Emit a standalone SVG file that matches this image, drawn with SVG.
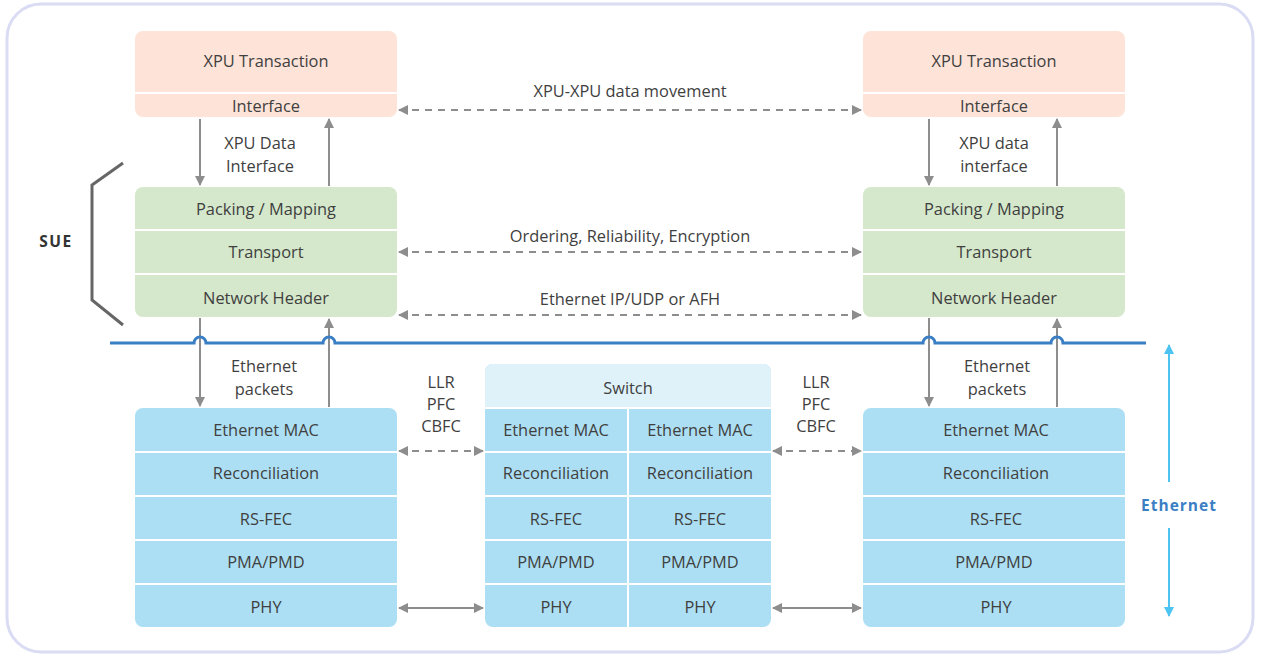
<svg xmlns="http://www.w3.org/2000/svg" width="1264" height="656" viewBox="0 0 1264 656">
<style>
text{font-family:"Open Sans","Noto Sans",sans-serif;font-size:16.4px;fill:#3f3f3f;text-anchor:middle}
.peach{fill:#fde3d8}
.green{fill:#d5e8cb}
.blue{fill:#addff4}
.sw{fill:#dff2f9}
.div{stroke:#fff;stroke-width:2}
.arr{stroke:#8d8d8d;stroke-width:2;fill:none}
.dash{stroke:#8d8d8d;stroke-width:2;fill:none;stroke-dasharray:7 6}
</style>
<defs>
<marker id="ah" viewBox="0 0 10 10" refX="9" refY="5" markerWidth="13" markerHeight="10" markerUnits="userSpaceOnUse" orient="auto-start-reverse">
<path d="M0,0 L10,5 L0,10 z" fill="#8d8d8d"/>
</marker>
<marker id="ahc" viewBox="0 0 10 10" refX="9" refY="5" markerWidth="14" markerHeight="10" markerUnits="userSpaceOnUse" orient="auto-start-reverse">
<path d="M0,0 L10,5 L0,10 z" fill="#4cc3f0"/>
</marker>
</defs>
<rect x="7" y="4" width="1246" height="648" rx="34" fill="#fff" stroke="#d9dcf3" stroke-width="3"/>

<g id="left-xpu">
<rect class="peach" x="135" y="31" width="262" height="86" rx="8"/>
<line class="div" x1="135" y1="93" x2="397" y2="93"/>
<text x="266" y="67">XPU Transaction</text>
<text x="266" y="112">Interface</text>
</g>
<g id="right-xpu">
<rect class="peach" x="863" y="31" width="262" height="86" rx="8"/>
<line class="div" x1="863" y1="93" x2="1125" y2="93"/>
<text x="994" y="67">XPU Transaction</text>
<text x="994" y="112">Interface</text>
</g>

<g id="left-sue">
<rect class="green" x="135" y="187" width="262" height="130" rx="8"/>
<line class="div" x1="135" y1="230" x2="397" y2="230"/>
<line class="div" x1="135" y1="274" x2="397" y2="274"/>
<text x="266" y="215">Packing / Mapping</text>
<text x="266" y="258">Transport</text>
<text x="266" y="304">Network Header</text>
</g>
<g id="right-sue">
<rect class="green" x="863" y="187" width="262" height="130" rx="8"/>
<line class="div" x1="863" y1="230" x2="1125" y2="230"/>
<line class="div" x1="863" y1="274" x2="1125" y2="274"/>
<text x="994" y="215">Packing / Mapping</text>
<text x="994" y="258">Transport</text>
<text x="994" y="304">Network Header</text>
</g>

<g id="left-eth">
<rect class="blue" x="135" y="408" width="262" height="219" rx="8"/>
<line class="div" x1="135" y1="452" x2="397" y2="452"/>
<line class="div" x1="135" y1="496" x2="397" y2="496"/>
<line class="div" x1="135" y1="540" x2="397" y2="540"/>
<line class="div" x1="135" y1="584" x2="397" y2="584"/>
<text x="266" y="436">Ethernet MAC</text>
<text x="266" y="479">Reconciliation</text>
<text x="266" y="525">RS-FEC</text>
<text x="266" y="568">PMA/PMD</text>
<text x="266" y="613">PHY</text>
</g>
<g id="right-eth">
<rect class="blue" x="863" y="408" width="262" height="219" rx="8"/>
<line class="div" x1="863" y1="452" x2="1125" y2="452"/>
<line class="div" x1="863" y1="496" x2="1125" y2="496"/>
<line class="div" x1="863" y1="540" x2="1125" y2="540"/>
<line class="div" x1="863" y1="584" x2="1125" y2="584"/>
<text x="996" y="436">Ethernet MAC</text>
<text x="996" y="479">Reconciliation</text>
<text x="996" y="525">RS-FEC</text>
<text x="994" y="568">PMA/PMD</text>
<text x="996" y="613">PHY</text>
</g>

<g id="switch">
<rect class="blue" x="485" y="364" width="286" height="263" rx="8"/>
<path class="sw" d="M493,364 H763 A8,8 0 0 1 771,372 V408 H485 V372 A8,8 0 0 1 493,364 Z"/>
<line class="div" x1="485" y1="408" x2="771" y2="408"/>
<line class="div" x1="485" y1="452" x2="771" y2="452"/>
<line class="div" x1="485" y1="496" x2="771" y2="496"/>
<line class="div" x1="485" y1="540" x2="771" y2="540"/>
<line class="div" x1="485" y1="584" x2="771" y2="584"/>
<line class="div" x1="628" y1="408" x2="628" y2="627"/>
<text x="628" y="394">Switch</text>
<text x="556" y="436">Ethernet MAC</text>
<text x="700" y="436">Ethernet MAC</text>
<text x="556" y="479">Reconciliation</text>
<text x="700" y="479">Reconciliation</text>
<text x="556" y="525">RS-FEC</text>
<text x="700" y="525">RS-FEC</text>
<text x="556" y="568">PMA/PMD</text>
<text x="700" y="568">PMA/PMD</text>
<text x="556" y="613">PHY</text>
<text x="700" y="613">PHY</text>
</g>

<g id="connectors">
<line class="dash" x1="399" y1="110" x2="861" y2="110" marker-start="url(#ah)" marker-end="url(#ah)"/>
<line class="dash" x1="399" y1="252" x2="861" y2="252" marker-start="url(#ah)" marker-end="url(#ah)"/>
<line class="dash" x1="399" y1="315" x2="861" y2="315" marker-start="url(#ah)" marker-end="url(#ah)"/>
<line class="dash" x1="399" y1="451" x2="483" y2="451" marker-start="url(#ah)" marker-end="url(#ah)"/>
<line class="dash" x1="773" y1="451" x2="861" y2="451" marker-start="url(#ah)" marker-end="url(#ah)"/>
<line class="arr" x1="399" y1="608" x2="483" y2="608" marker-start="url(#ah)" marker-end="url(#ah)"/>
<line class="arr" x1="773" y1="608" x2="861" y2="608" marker-start="url(#ah)" marker-end="url(#ah)"/>

<line class="arr" x1="200" y1="119" x2="200" y2="185" marker-end="url(#ah)"/>
<line class="arr" x1="329" y1="186" x2="329" y2="119" marker-end="url(#ah)"/>
<line class="arr" x1="929" y1="119" x2="929" y2="185" marker-end="url(#ah)"/>
<line class="arr" x1="1057" y1="186" x2="1057" y2="119" marker-end="url(#ah)"/>
<line class="arr" x1="200" y1="318" x2="200" y2="406" marker-end="url(#ah)"/>
<line class="arr" x1="329" y1="407" x2="329" y2="319" marker-end="url(#ah)"/>
<line class="arr" x1="929" y1="318" x2="929" y2="406" marker-end="url(#ah)"/>
<line class="arr" x1="1057" y1="407" x2="1057" y2="319" marker-end="url(#ah)"/>

<path d="M110,343 H194 A6,6 0 0 1 206,343 H323 A6,6 0 0 1 335,343 H923 A6,6 0 0 1 935,343 H1051 A6,6 0 0 1 1063,343 H1146" fill="none" stroke="#3a7fc4" stroke-width="3"/>

<path d="M123,163 L92,185 V300 L123,325" fill="none" stroke="#666" stroke-width="3"/>

<line x1="1169" y1="482" x2="1169" y2="345" stroke="#4cc3f0" stroke-width="2" marker-end="url(#ahc)"/>
<line x1="1169" y1="528" x2="1169" y2="616" stroke="#4cc3f0" stroke-width="2" marker-end="url(#ahc)"/>
</g>

<g id="labels">
<text x="630" y="97">XPU-XPU data movement</text>
<text x="630" y="242">Ordering, Reliability, Encryption</text>
<text x="630" y="305">Ethernet IP/UDP or AFH</text>
<text x="260" y="149">XPU Data</text>
<text x="260" y="172">Interface</text>
<text x="994" y="149">XPU data</text>
<text x="994" y="172">interface</text>
<text x="264" y="372">Ethernet</text>
<text x="264" y="395">packets</text>
<text x="997" y="372">Ethernet</text>
<text x="997" y="395">packets</text>
<text x="441" y="388">LLR</text>
<text x="441" y="410">PFC</text>
<text x="441" y="432">CBFC</text>
<text x="816" y="388">LLR</text>
<text x="816" y="410">PFC</text>
<text x="816" y="432">CBFC</text>
<text x="56" y="247" style="font-weight:bold;letter-spacing:1.5px;font-size:15.5px;fill:#333">SUE</text>
<text x="1179" y="511" style="font-weight:bold;letter-spacing:1px;font-size:15.5px;fill:#3a7fc4">Ethernet</text>
</g>
</svg>
